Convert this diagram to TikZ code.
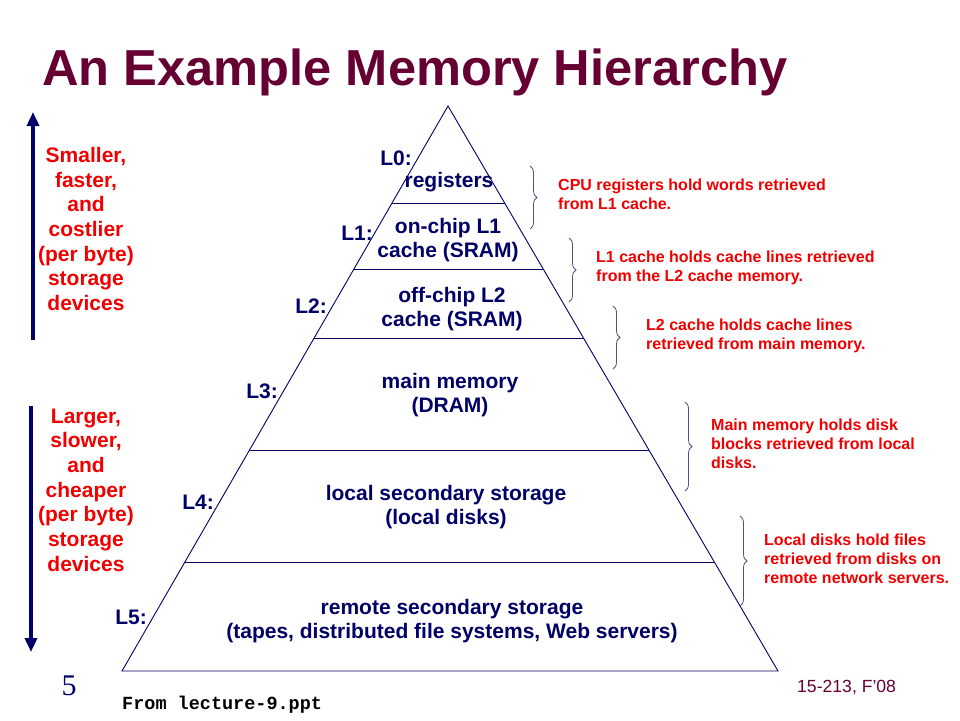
\documentclass[tikz,border=0pt]{standalone}
\usepackage{fontspec}
\setmainfont{Liberation Sans}
\setmonofont{Liberation Mono}
\newfontfamily\slidenumfont{Liberation Serif}
\usetikzlibrary{arrows.meta,calc,decorations.pathreplacing}
\definecolor{navy}{RGB}{0,0,102}
\definecolor{maroon}{RGB}{102,0,51}
\definecolor{slidered}{RGB}{240,0,0}
\definecolor{bracegray}{RGB}{80,80,130}
\begin{document}
\begin{tikzpicture}[x=1pt, y=-1pt,
	level/.style={font=\fontsize{21}{24.5}\selectfont\bfseries, text=navy, align=center, inner sep=0},
	tag/.style={font=\fontsize{21}{24.5}\selectfont\bfseries, text=navy, inner sep=0},
	note/.style={font=\fontsize{16}{19}\selectfont\bfseries, text=slidered, align=left, anchor=west, inner sep=0},
	side/.style={font=\fontsize{21}{24.7}\selectfont\bfseries, text=slidered, align=center, inner sep=0},
	curly/.style={draw=bracegray, line width=0.8pt, decorate, decoration={brace, amplitude=7pt}},
	bigarrow/.style={draw=navy, line width=3.5pt, -{Triangle[length=14pt,width=12pt]}}]
	\useasboundingbox (0,0) rectangle (960,720);
	% title
	\node[anchor=base west, inner sep=0, text=maroon, font=\fontsize{50.6}{55}\selectfont\bfseries] (title) at (42,85) {An Example Memory Hierarchy};
	% pyramid
	\coordinate (apex) at (448,106);
	\coordinate (bl) at (122,671);
	\coordinate (br) at (778,671);
	\draw[navy, line width=0.9pt] (apex) -- (br) -- (bl) -- cycle;
	\foreach \t in {0.1717, 0.290, 0.4106, 0.6088, 0.807}
		\draw[navy, line width=0.9pt] ($(apex)!\t!(bl)$) -- ($(apex)!\t!(br)$);
	% levels
	\node[level] (reg) at (449,182) {registers};
	\node[level] (l1) at (448,240) {on-chip L1\\cache (SRAM)};
	\node[level] (l2) at (452,309) {off-chip L2\\cache (SRAM)};
	\node[level] (dram) at (450,395) {main memory\\(DRAM)};
	\node[level] (disk) at (446,507) {local secondary storage\\(local disks)};
	\node[level] (remote) at (452,621) {remote secondary storage\\(tapes, distributed file systems, Web servers)};
	\node[tag] (t0) at (396,158) {L0:};
	\node[tag] (t1) at (357,233) {L1:};
	\node[tag] (t2) at (311,306) {L2:};
	\node[tag] (t3) at (262,391) {L3:};
	\node[tag] (t4) at (198,502) {L4:};
	\node[tag] (t5) at (131,617) {L5:};
	% braces and notes
	\draw[curly] (530,166) -- (530,229);
	\node[note] (n0) at (558,194) {CPU registers hold words retrieved\\from L1 cache.};
	\draw[curly] (569,238) -- (569,302);
	\node[note] (n1) at (596,268) {L1 cache holds cache lines retrieved\\from the L2 cache memory.};
	\draw[curly] (613,306) -- (613,369);
	\node[note] (n2) at (646,336) {L2 cache holds cache lines\\retrieved from main memory.};
	\draw[curly] (685,402) -- (685,491);
	\node[note] (n3) at (711,444) {Main memory holds disk\\blocks retrieved from local\\disks.};
	\draw[curly] (740,516) -- (740,606);
	\node[note] (n4) at (764,559) {Local disks hold files\\retrieved from disks on\\remote network servers.};
	% left side
	\node[side] (small) at (86,229) {Smaller,\\faster,\\and\\costlier\\(per byte)\\storage\\devices};
	\node[side] (large) at (86,490) {Larger,\\slower,\\and\\cheaper\\(per byte)\\storage\\devices};
	\coordinate (up0) at (33,340);
	\coordinate (up1) at (33,112);
	\coordinate (dn0) at (31,406);
	\coordinate (dn1) at (31,652);
	\draw[bigarrow] (up0) -- (up1);
	\draw[bigarrow] (dn0) -- (dn1);
	% footer
	\node[text=navy, inner sep=0, font=\fontsize{30}{32}\slidenumfont] (num) at (69,686) {5};
	\node[anchor=base west, inner sep=0, text=maroon, font=\fontsize{17.6}{20}\selectfont] (course) at (797,692) {15-213, F'08};
	\node[anchor=base west, inner sep=0, font=\fontsize{18.5}{20}\ttfamily\bfseries] (src) at (122,709) {From lecture-9.ppt};
\end{tikzpicture}
\end{document}
